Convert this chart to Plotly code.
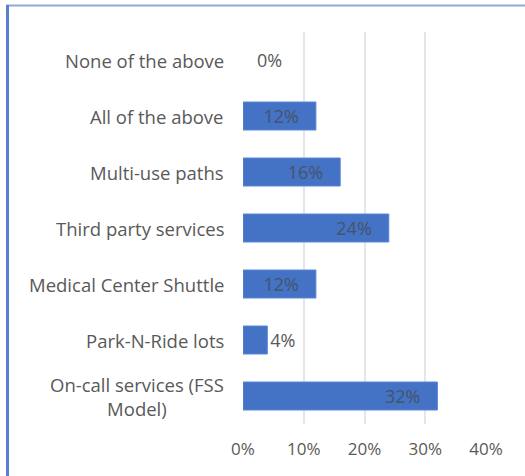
import plotly.graph_objects as go

# Survey responses, listed bottom-to-top as drawn
categories = [
    "On-call services (FSS<br>Model)",
    "Park-N-Ride lots",
    "Medical Center Shuttle",
    "Third party services",
    "Multi-use paths",
    "All of the above",
    "None of the above",
]
shares = [0.32, 0.04, 0.12, 0.24, 0.16, 0.12, 0.0]
x_ticks = [0, 0.1, 0.2, 0.3, 0.4]
x_tick_labels = ["0%", "10%", "20%", "30%", "40%"]

W, H = 525, 476
ML, MR, MT, MB = 243, 39, 32, 52
PW, PH = W - ML - MR, H - MT - MB

FONT = "Open Sans"
TEXT = "#595959"
PAD = "\u00a0" * 3

labels = [f"{v:.0%}" + PAD if v > 0 else "" for v in shares]

fig = go.Figure(
    go.Bar(
        y=categories,
        x=shares,
        orientation="h",
        marker=dict(
            color="#4472c4",
            line=dict(color="#5b86d6", width=[1 if v > 0 else 0 for v in shares]),
        ),
        text=labels,
        textposition="auto",
        insidetextanchor="end",
        constraintext="none",
        insidetextfont=dict(family=FONT, size=18, color="#44546a"),
        outsidetextfont=dict(family=FONT, size=18, color=TEXT),
        cliponaxis=False,
        hoverinfo="skip",
    )
)

# Category labels, centered when wrapped onto two lines
annotations = [
    dict(
        x=0, xref="paper", y=c, yref="y",
        text=c, showarrow=False, xanchor="right", align="center",
        xshift=-17, font=dict(family=FONT, size=18.5, color=TEXT),
    )
    for c in categories
]

# Value labels for empty bars
annotations += [
    dict(
        x=v, xref="x", y=c, yref="y",
        text=f"{v:.0%}", showarrow=False, xanchor="left",
        xshift=12, font=dict(family=FONT, size=18, color=TEXT),
    )
    for c, v in zip(categories, shares) if v == 0
]

# Frame edges along the top and left of the chart area
def px_x(p):
    return (p - ML) / PW

def px_y(p):
    return (H - MB - p) / PH

shapes = [
    dict(type="line", xref="paper", yref="paper",
         x0=px_x(6), x1=px_x(W + 5), y0=px_y(5.5), y1=px_y(5.5),
         line=dict(color="#8eaadb", width=2)),
    dict(type="line", xref="paper", yref="paper",
         x0=px_x(7.5), x1=px_x(7.5), y0=px_y(5), y1=px_y(H + 5),
         line=dict(color="#5b7fd0", width=3)),
]

fig.update_layout(
    width=W, height=H,
    margin=dict(l=ML, r=MR, t=MT, b=MB),
    paper_bgcolor="white", plot_bgcolor="white",
    bargap=0.5,
    showlegend=False,
    annotations=annotations,
    shapes=shapes,
    xaxis=dict(
        range=[0, 0.4],
        tickvals=x_ticks, ticktext=x_tick_labels,
        showgrid=True, gridcolor="#e3e6ec", gridwidth=2,
        zeroline=False, showline=False,
        ticks="", ticklabelstandoff=13,
        tickfont=dict(family=FONT, size=17, color=TEXT),
    ),
    yaxis=dict(
        categoryorder="array", categoryarray=categories,
        showticklabels=False, showgrid=False, zeroline=False,
        range=[-0.5, len(categories) - 0.5],
    ),
)

fig.write_html("out.html")
